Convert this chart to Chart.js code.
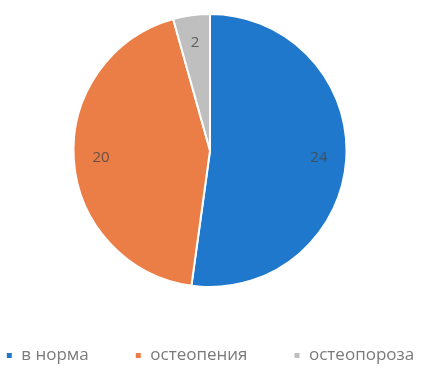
<!DOCTYPE html>
<html>
<head>
<meta charset="utf-8">
<script src="https://cdn.jsdelivr.net/npm/chart.js@4.4.0/dist/chart.umd.min.js"></script>
<style>
  html, body { margin: 0; padding: 0; background: #ffffff; }
  #wrap { width: 435px; height: 378px; }
</style>
</head>
<body>
<div id="wrap"><canvas id="pieChart" width="435" height="378"></canvas></div>
<script>
// chart data
const categories = ['в норма', 'остеопения', 'остеопороза'];
const values = [24, 20, 2];
const sliceColors = ['#1f78cc', '#eb7d46', '#bfbfbf'];

// draws the value inside each slice
const sliceLabels = {
    id: 'sliceLabels',
    afterDatasetsDraw(chart) {
        const ctx = chart.ctx;
        const meta = chart.getDatasetMeta(0);
        ctx.save();
        ctx.font = '15px "Open Sans"';
        ctx.fillStyle = 'rgba(70,70,70,0.8)';
        ctx.textAlign = 'center';
        ctx.textBaseline = 'middle';
        meta.data.forEach(function(arc, i) {
            const p = arc.getProps(['x', 'y', 'startAngle', 'endAngle', 'outerRadius'], true);
            const mid = (p.startAngle + p.endAngle) / 2;
            const r = p.outerRadius * 0.8;
            ctx.fillText(String(values[i]), p.x + Math.cos(mid) * r, p.y + Math.sin(mid) * r);
        });
        ctx.restore();
    }
};

// legend: fixed block height, and keep all items on one row
const legendLayout = {
    id: 'legendLayout',
    beforeInit(chart) {
        const fit = chart.legend.fit;
        chart.legend.fit = function() {
            const mw = this.maxWidth;
            this.maxWidth = 2000;
            fit.call(this);
            this.maxWidth = mw;
            this.width = mw;
            this.height = 90;
        };
    },
    beforeDraw(chart) {
        // widen the box so the row does not wrap while drawing (centre unchanged)
        chart.legend.left -= 100;
        chart.legend.right += 100;
    }
};

new Chart('pieChart', {
    type: 'pie',
    data: {
        labels: categories,
        datasets: [{
            data: values,
            backgroundColor: sliceColors,
            borderColor: '#ffffff',
            borderWidth: 2
        }]
    },
    options: {
        responsive: false,
        animation: false,
        layout: {
            padding: { top: 13, right: 15, left: 0, bottom: 0 }
        },
        plugins: {
            tooltip: { enabled: false },
            legend: {
                position: 'bottom',
                title: {
                    display: true,
                    text: ' ',
                    font: { size: 10 },
                    padding: { top: 1, bottom: 0 }
                },
                labels: {
                    boxWidth: 7,
                    boxHeight: 7,
                    padding: 46,
                    color: '#7a7a7a',
                    font: { family: '"Open Sans"', size: 17 }
                }
            }
        }
    },
    plugins: [sliceLabels, legendLayout]
});
</script>
</body>
</html>
